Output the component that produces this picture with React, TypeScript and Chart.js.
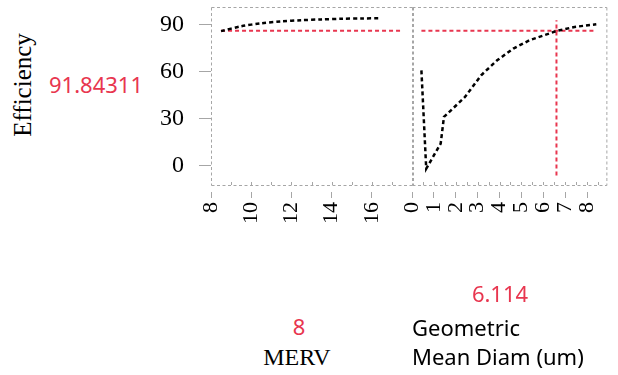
import React, { useEffect, useRef } from "react";
import { Chart, registerables } from "chart.js";

Chart.register(...registerables);

// ---- data ----
const yTicks = [0, 30, 60, 90];
const mervTicks = [8, 10, 12, 14, 16];
const diamTicks = [0, 1, 2, 3, 4, 5, 6, 7, 8];

const mervX = [8.5, 9.5, 10.5, 11.5, 12.5, 13.5, 14.5, 15.5, 16.4];
const mervEff = [85.6, 88.7, 90.6, 91.8, 92.6, 93.1, 93.5, 93.7, 93.8];

const diamX = [0.43, 0.65, 1.31, 1.46, 2.42, 3.16, 3.89, 4.63, 5.37, 6.6, 7.43, 8.42];
const diamEff = [60.6, -2.1, 13.9, 30.9, 43.6, 57.5, 67, 74.5, 79.8, 85.7, 88.3, 90];

const refEff = 85.8;
const mervRefRange = [8.5, 17.5];
const diamRefRange = [0.43, 8.4];
const diamCurrent = 6.6;
const diamCurrentSpan = [-6.4, 92.5];

const yRange = [-12.5, 101];
const mervAxisRange = [8, 18];
const diamAxisRange = [0, 8.88];

const effLabel = "91.84311";
const mervLabel = "8";
const diamLabel = "6.114";

// ---- styles ----
const RED = "#e8364f";
const GRAY = "#a6a6a6";
const SERIF = "'Liberation Serif', 'Times New Roman', serif";
const SANS = "'Noto Sans', 'Open Sans', sans-serif";

const panelPlugin = {
  id: "panel",
  afterDraw(chart: any, _args: any, opts: any) {
    const { ctx, chartArea: a } = chart;
    const xs = chart.scales.x;
    const L = a.left + 0.5, R = a.right + 0.5, T = a.top + 0.5, B = a.bottom + 0.5;
    ctx.save();
    ctx.strokeStyle = GRAY;
    ctx.lineWidth = 1;
    ctx.setLineDash([3, 2.5]);
    ctx.beginPath();
    ctx.moveTo(L, T); ctx.lineTo(R, T);
    ctx.moveTo(R, T); ctx.lineTo(R, B);
    ctx.moveTo(L, B); ctx.lineTo(R, B);
    if (opts && opts.innerLeft) {
      ctx.moveTo(L + 1, T); ctx.lineTo(L + 1, B);
    } else {
      ctx.moveTo(L, T); ctx.lineTo(L, B);
    }
    ctx.stroke();
    ctx.setLineDash([]);
    const step = opts && opts.minorStep ? opts.minorStep : 1;
    for (let v = xs.min; v <= xs.max + 1e-9; v += step) {
      const px = Math.round(xs.getPixelForValue(v)) + 0.5;
      if (px <= a.left + 2 || px >= a.right - 1) continue;
      ctx.beginPath();
      ctx.moveTo(px, a.bottom);
      ctx.lineTo(px, a.bottom - 3);
      ctx.stroke();
    }
    ctx.restore();
  },
};

function baseX(min: number, max: number, ticks: number[]) {
  return {
    type: "linear",
    min,
    max,
    afterBuildTicks: (s: any) => {
      s.ticks = ticks.map((v) => ({ value: v }));
    },
    afterFit: (s: any) => {
      s.height = 80;
    },
    ticks: {
      autoSkip: false,
      minRotation: 90,
      maxRotation: 90,
      padding: 4,
      font: { family: SERIF, size: 22 },
      color: "#000",
    },
    grid: {
      drawOnChartArea: false,
      tickLength: 13,
      color: GRAY,
      tickBorderDash: [0, 7, 6, 100],
    },
    border: { display: false },
  };
}

function yScale(show: boolean) {
  return {
    type: "linear",
    display: show,
    min: yRange[0],
    max: yRange[1],
    afterBuildTicks: (s: any) => {
      s.ticks = yTicks.map((v) => ({ value: v }));
    },
    afterFit: (s: any) => {
      if (show) s.width = 61;
    },
    ticks: { padding: 15, font: { family: SERIF, size: 24 }, color: "#000" },
    grid: { drawOnChartArea: false, tickLength: 12, color: GRAY },
    border: { display: false },
  };
}

function lineDs(xs: number[], ys: number[], color: string, width: number, tension = 0) {
  return {
    data: xs.map((x, i) => ({ x, y: ys[i] })),
    borderColor: color,
    borderWidth: width,
    borderDash: [4, 3],
    pointRadius: 0,
    fill: false,
    tension,
  };
}

function ChartCanvas({ config, style, w, h }: any) {
  const ref = useRef<HTMLCanvasElement | null>(null);
  useEffect(() => {
    const c = new Chart(ref.current as HTMLCanvasElement, config);
    return () => c.destroy();
  }, []);
  return <canvas ref={ref} width={w} height={h} style={{ position: "absolute", width: w, height: h, ...style }} />;
}

const TOP_PAD = 40;
const CANVAS_TOP = 7 - TOP_PAD;
const CANVAS_H = 185 + 80 - CANVAS_TOP;

const leftConfig: any = {
  type: "line",
  data: {
    datasets: [
      lineDs(mervX, mervEff, "#000", 2.5, 0.3),
      lineDs(mervRefRange, mervRefRange.map(() => refEff), RED, 2),
    ],
  },
  options: {
    animation: false,
    responsive: false,
    maintainAspectRatio: false,
    layout: { padding: { top: TOP_PAD, right: 6, left: 0, bottom: 0 } },
    plugins: { legend: { display: false }, tooltip: { enabled: false }, panel: { minorStep: 1 } },
    scales: {
      x: baseX(mervAxisRange[0], mervAxisRange[1], mervTicks),
      y: yScale(true),
    },
  },
  plugins: [panelPlugin],
};

const rightConfig: any = {
  type: "line",
  data: {
    datasets: [
      lineDs(diamX, diamEff, "#000", 2.5, 0),
      lineDs(diamRefRange, diamRefRange.map(() => refEff), RED, 2),
      lineDs([diamCurrent, diamCurrent], diamCurrentSpan, RED, 2),
    ],
  },
  options: {
    animation: false,
    responsive: false,
    maintainAspectRatio: false,
    layout: { padding: { top: TOP_PAD, right: 5, left: 20, bottom: 0 } },
    plugins: { legend: { display: false }, tooltip: { enabled: false }, panel: { minorStep: 0.5, innerLeft: true } },
    scales: {
      x: baseX(diamAxisRange[0], diamAxisRange[1], diamTicks),
      y: yScale(false),
    },
  },
  plugins: [panelPlugin],
};

const txt = (extra: any) => ({
  position: "absolute" as const,
  whiteSpace: "nowrap" as const,
  margin: 0,
  ...extra,
});

export default function App() {
  return (
    <div style={{ position: "absolute", left: 0, top: 0, width: 618, height: 375, background: "#fff", overflow: "hidden" }}>
      <ChartCanvas config={leftConfig} w={268} h={CANVAS_H} style={{ left: 150, top: CANVAS_TOP }} />
      <ChartCanvas config={rightConfig} w={226} h={CANVAS_H} style={{ left: 392, top: CANVAS_TOP }} />

      <div
        style={txt({
          left: -57,
          top: 73,
          width: 160,
          height: 24,
          lineHeight: "24px",
          textAlign: "center",
          fontFamily: SERIF,
          fontSize: 25,
          color: "#000",
          transform: "rotate(-90deg)",
          transformOrigin: "50% 50%",
        })}
      >
        Efficiency
      </div>
      <div style={txt({ left: 49, top: 73, fontFamily: SANS, fontSize: 22, lineHeight: "22px", color: RED })}>{effLabel}</div>

      <div style={txt({ left: 259, width: 80, textAlign: "center", top: 315, fontFamily: SANS, fontSize: 22, lineHeight: "22px", color: RED })}>
        {mervLabel}
      </div>
      <div style={txt({ left: 237, width: 120, textAlign: "center", top: 345, fontFamily: SERIF, fontSize: 24, lineHeight: "24px", color: "#000" })}>
        MERV
      </div>

      <div style={txt({ left: 440, width: 120, textAlign: "center", top: 282, fontFamily: SANS, fontSize: 22, lineHeight: "22px", color: RED })}>
        {diamLabel}
      </div>
      <div style={txt({ left: 412, top: 316, fontFamily: SANS, fontSize: 22, lineHeight: "22px", color: "#000" })}>Geometric</div>
      <div style={txt({ left: 412, top: 345, fontFamily: SANS, fontSize: 22, lineHeight: "22px", color: "#000" })}>
        Mean Diam (um)
      </div>
    </div>
  );
}
